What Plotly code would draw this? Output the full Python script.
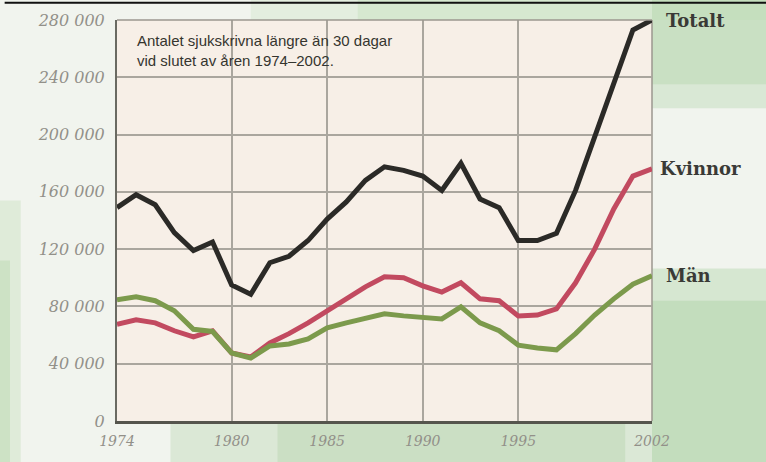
import plotly.graph_objects as go

years = list(range(1974, 2003))
totalt = [149000, 158000, 151000, 131500, 119000, 125000, 95000, 88500, 110500, 115000,
          126000, 141000, 153000, 168000, 177500, 175000, 171000, 161000, 180000, 155000,
          149000, 126000, 126000, 131000, 161000, 198000, 236000, 273000, 280000]
kvinnor = [67500, 70600, 68500, 63000, 58700, 63000, 47500, 44700, 54500, 61000,
           68500, 77000, 85300, 93700, 100700, 100000, 94400, 90000, 96500, 85300,
           84000, 73400, 74000, 78300, 96500, 120000, 148000, 171000, 176000]
man = [84600, 86700, 84000, 77000, 64000, 62500, 47500, 44000, 52400, 53800,
       57300, 65000, 68500, 72000, 74800, 73400, 72000, 71300, 79700, 68500,
       63000, 53000, 51000, 49700, 61000, 74000, 85300, 95500, 101400]

series_names = ["Totalt", "Kvinnor", "Män"]
series_vals = [totalt, kvinnor, man]
series_colors = ["#2b2a27", "#c24a60", "#7c9a4c"]

ytick_vals = [0, 40000, 80000, 120000, 160000, 200000, 240000, 280000]
ytick_text = ["0", "40 000", "80 000", "120 000", "160 000", "200 000", "240 000", "280 000"]
xtick_vals = [1974, 1980, 1985, 1990, 1995, 2002]
xtick_text = ["1974", "1980", "1985", "1990", "1995", "2002"]

title_text = "Antalet sjukskrivna längre än 30 dagar<br>vid slutet av åren 1974–2002."

fig = go.Figure()
for name, vals, col in zip(series_names, series_vals, series_colors):
    fig.add_trace(go.Scatter(x=years, y=vals, mode="lines", name=name,
                             line=dict(color=col, width=5, shape="linear"),
                             showlegend=False, hoverinfo="skip"))

# end labels
label_shift = {"Totalt": 0, "Kvinnor": -6, "Män": 0}
for name, vals in zip(series_names, series_vals):
    fig.add_annotation(x=years[-1], y=vals[-1], text=name, showarrow=False,
                       xanchor="left", yanchor="middle", xshift=12 + label_shift[name],
                       yshift=0,
                       font=dict(family="DejaVu Serif", size=18, color="#3a3a36", weight="bold"))

fig.add_annotation(xref="paper", yref="paper", x=0.033, y=0.975, text=title_text,
                   showarrow=False, xanchor="left", yanchor="top", align="left",
                   font=dict(family="Liberation Sans", size=15, color="#35352f"))

# background patches (soft scan look), layered for a gradient-ish effect
patches = [
    (0.25, 1.22, 1.0, 1.06, "#c9e2c2", 0.35),
    (0.45, 1.0, 1.0, 1.06, "#c2dfba", 0.4),
    (1.0, 1.22, 0.78, 1.06, "#bcdab5", 0.45),
    (1.0, 1.22, 0.84, 1.06, "#b6d6ad", 0.45),
    (1.0, 1.22, -0.12, 0.38, "#b6d6ad", 0.45),
    (1.0, 1.22, -0.12, 0.30, "#add1a3", 0.45),
    (0.1, 1.0, -0.12, 0.0, "#bcd7b2", 0.4),
    (0.3, 0.95, -0.12, 0.0, "#b3d3a9", 0.4),
    (-0.22, -0.18, -0.12, 0.55, "#c9e0bf", 0.45),
    (-0.22, -0.2, -0.12, 0.4, "#b9d7ae", 0.45),
]
for x0, x1, y0, y1, c, op in patches:
    fig.add_shape(type="rect", xref="paper", yref="paper", x0=x0, x1=x1, y0=y0, y1=y1,
                  fillcolor=c, opacity=op, line=dict(width=0), layer="below")

# plot frame top & right
fig.add_shape(type="line", xref="paper", yref="paper", x0=0, x1=1, y0=1, y1=1,
              line=dict(color="#9b978f", width=1.5))
fig.add_shape(type="line", xref="paper", yref="paper", x0=1, x1=1, y0=0, y1=1,
              line=dict(color="#9b978f", width=1.5), layer="below")
# scan border line on top
fig.add_shape(type="line", xref="paper", yref="paper", x0=-0.21, x1=1.22, y0=1.043, y1=1.043,
              line=dict(color="#111111", width=2))

fig.update_layout(
    width=766, height=462,
    margin=dict(l=117, r=114, t=20, b=41),
    paper_bgcolor="#f1f4ee",
    plot_bgcolor="#f7efe7",
    xaxis=dict(range=[1974, 2002], tickvals=xtick_vals, ticktext=xtick_text,
               showgrid=True, gridcolor="#aaa69e", gridwidth=1.5, zeroline=False,
               showline=True, linecolor="#55554d", linewidth=3, ticks="",
               ticklabelstandoff=5,
               tickfont=dict(family="DejaVu Serif", size=14, color="#929089", style="italic"),
               fixedrange=True),
    yaxis=dict(range=[0, 280000], tickvals=ytick_vals, ticktext=ytick_text,
               showgrid=True, gridcolor="#aaa69e", gridwidth=1.5, zeroline=False,
               showline=True, linecolor="#6a6a62", linewidth=2, ticks="",
               ticklabelstandoff=7,
               tickfont=dict(family="DejaVu Serif", size=16, color="#929089", style="italic"),
               fixedrange=True),
)

fig.write_html("out.html")
